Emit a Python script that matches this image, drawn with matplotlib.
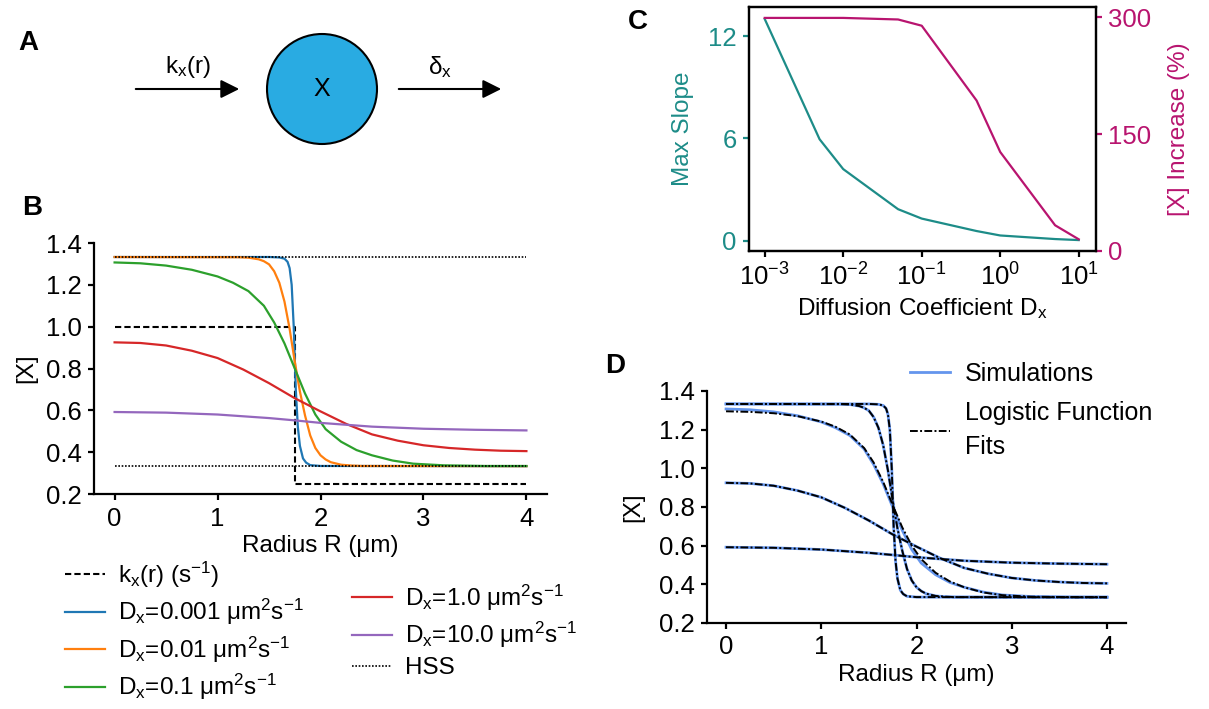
import matplotlib
matplotlib.use("Agg")
import matplotlib.pyplot as plt
from matplotlib.patches import Circle
from matplotlib.lines import Line2D

plt.rcParams['font.family'] = ['Liberation Sans', 'DejaVu Sans']
plt.rcParams['mathtext.fontset'] = 'custom'
plt.rcParams['mathtext.rm'] = 'Liberation Sans'
plt.rcParams['mathtext.it'] = 'Liberation Sans:italic'
plt.rcParams['mathtext.bf'] = 'Liberation Sans:bold'
plt.rcParams['font.size'] = 17.5
plt.rcParams['xtick.labelsize'] = 18.5
plt.rcParams['ytick.labelsize'] = 18.5

# ---- panel B / D profiles ----
r_kx = [0.0, 1.75, 1.75, 4.0]
kx = [1.0, 1.0, 0.25, 0.25]
r_hss = [0.0, 4.0]
hss_hi = [1.333, 1.333]
hss_lo = [0.333, 0.333]

r_d001 = [0.0, 1.5, 1.6, 1.65, 1.68, 1.7, 1.72, 1.74, 1.76, 1.78, 1.8, 1.83, 1.86, 1.9, 2.0, 4.0]
x_d001 = [1.333, 1.333, 1.331, 1.325, 1.31, 1.28, 1.2, 1.0, 0.7, 0.52, 0.43, 0.37, 0.35, 0.338, 0.334, 0.333]

r_d01 = [0.0, 1.2, 1.3, 1.4, 1.45, 1.5, 1.55, 1.6, 1.65, 1.7, 1.75, 1.8, 1.85, 1.9, 1.95, 2.0,
         2.05, 2.1, 2.2, 2.3, 2.4, 4.0]
x_d01 = [1.333, 1.332, 1.33, 1.322, 1.313, 1.298, 1.265, 1.21, 1.12, 0.99, 0.833, 0.69, 0.575,
         0.48, 0.42, 0.385, 0.365, 0.352, 0.34, 0.336, 0.334, 0.333]

r_d1 = [0.0, 0.25, 0.5, 0.75, 1.0, 1.15, 1.3, 1.45, 1.55, 1.65, 1.75, 1.85, 1.95, 2.05, 2.2,
        2.35, 2.5, 2.7, 2.9, 3.2, 3.6, 4.0]
x_d1 = [1.307, 1.303, 1.292, 1.272, 1.24, 1.21, 1.17, 1.10, 1.02, 0.92, 0.80, 0.68, 0.58,
        0.51, 0.45, 0.41, 0.385, 0.36, 0.345, 0.337, 0.334, 0.334]
x_d1_fit = [1.295, 1.292, 1.285, 1.27, 1.242, 1.215, 1.175, 1.105, 1.03, 0.93, 0.81, 0.695,
            0.6, 0.53, 0.46, 0.415, 0.385, 0.358, 0.344, 0.336, 0.334, 0.334]

r_d10 = [0.0, 0.25, 0.5, 0.75, 1.0, 1.25, 1.5, 1.75, 2.0, 2.25, 2.5, 2.75, 3.0, 3.25, 3.5, 3.75, 4.0]
x_d10 = [0.925, 0.922, 0.91, 0.885, 0.85, 0.795, 0.73, 0.658, 0.595, 0.535, 0.485, 0.455,
         0.433, 0.42, 0.412, 0.407, 0.405]

r_d100 = [0.0, 0.5, 1.0, 1.5, 1.75, 2.0, 2.5, 3.0, 3.5, 4.0]
x_d100 = [0.592, 0.589, 0.58, 0.563, 0.552, 0.54, 0.522, 0.512, 0.507, 0.504]

# ---- panel C ----
diff_coef = [1e-3, 5e-3, 1e-2, 5e-2, 1e-1, 5e-1, 1.0, 5.0, 10.0]
max_slope = [13.0, 5.95, 4.2, 1.85, 1.3, 0.57, 0.31, 0.1, 0.04]
increase = [299, 299, 299, 297, 289, 193, 127, 33, 15]

W, H = 1209, 709
fig = plt.figure(figsize=(W / 100, H / 100), dpi=100)


def px_axes(left, top, right, bottom):
    return fig.add_axes([left / W, 1 - bottom / H, (right - left) / W, (bottom - top) / H])


def style_ax(ax):
    for s in ['top', 'right']:
        ax.spines[s].set_visible(False)
    for s in ['left', 'bottom']:
        ax.spines[s].set_linewidth(1.6)
    ax.tick_params(width=1.6, length=4, pad=5)


# ---- panel A: drawn in pixel space ----
ax0 = fig.add_axes([0, 0, 1, 1])
ax0.set_xlim(0, W)
ax0.set_ylim(H, 0)
ax0.axis('off')
ax0.add_patch(Circle((322, 89), 55, facecolor='#29abe2', edgecolor='black', lw=1.5))
ax0.text(322, 89, 'X', ha='center', va='center', fontsize=18)
arrow = dict(arrowstyle='-|>', lw=1.5, color='black', mutation_scale=28)
ax0.annotate('', xy=(242, 89), xytext=(133, 89), arrowprops=arrow)
ax0.annotate('', xy=(504, 89), xytext=(396, 89), arrowprops=arrow)
ax0.text(188, 67, r'k$_\mathrm{x}$(r)', ha='center', va='center', fontsize=17.5)
ax0.text(440, 67, r'δ$_\mathrm{x}$', ha='center', va='center', fontsize=17.5)
for lab, x, y in [('A', 28, 43), ('B', 32, 208), ('C', 638, 22), ('D', 615, 366)]:
    ax0.text(x, y, lab, ha='center', va='center', fontsize=20, fontweight='bold')

# ---- panel B ----
axB = px_axes(94, 243, 547, 494)
style_ax(axB)
l_kx, = axB.plot(r_kx, kx, color='black', ls=(0, (3, 1.5)), lw=1.5)
l1, = axB.plot(r_d001, x_d001, color='#1f77b4', lw=1.6)
l2, = axB.plot(r_d01, x_d01, color='#ff7f0e', lw=1.6)
l3, = axB.plot(r_d1, x_d1, color='#2ca02c', lw=1.6)
l4, = axB.plot(r_d10, x_d10, color='#d62728', lw=1.6)
l5, = axB.plot(r_d100, x_d100, color='#9467bd', lw=1.6)
l_hss, = axB.plot(r_hss, hss_hi, color='black', ls=(0, (1, 1)), lw=1.2)
axB.plot(r_hss, hss_lo, color='black', ls=(0, (1, 1)), lw=1.2)
axB.set_xlim(-0.2, 4.2)
axB.set_ylim(0.2, 1.4)
axB.set_xticks([0, 1, 2, 3, 4])
axB.set_yticks([0.2, 0.4, 0.6, 0.8, 1.0, 1.2, 1.4])
axB.set_xlabel('Radius R (μm)', labelpad=3)
axB.set_ylabel('[X]', labelpad=6)

unit = r' μm$^2$s$^{-1}$'
leg_kw = dict(frameon=False, loc='center left', borderpad=0, borderaxespad=0,
              handlelength=1.65, handletextpad=0.55, labelspacing=0.3,
              bbox_transform=fig.transFigure, fontsize=17.5)
leg1 = axB.legend([l_kx, l1, l2, l3],
                  [r'k$_\mathrm{x}$(r) (s$^{-1}$)', r'D$_\mathrm{x}$=0.001' + unit,
                   r'D$_\mathrm{x}$=0.01' + unit, r'D$_\mathrm{x}$=0.1' + unit],
                  bbox_to_anchor=(65 / W, 1 - 631 / H), **leg_kw)
axB.add_artist(leg1)
axB.legend([l4, l5, l_hss],
           [r'D$_\mathrm{x}$=1.0' + unit, r'D$_\mathrm{x}$=10.0' + unit, 'HSS'],
           bbox_to_anchor=(352 / W, 1 - 631 / H), **leg_kw)

# ---- panel C ----
teal = '#1d8c88'
mag = '#b8146f'
axC = px_axes(749, 7, 1096, 251)
axC2 = axC.twinx()
axC.plot(diff_coef, max_slope, color=teal, lw=1.6)
axC2.plot(diff_coef, increase, color=mag, lw=1.6)
axC.set_xscale('log')
axC.set_xlim(10 ** -3.2, 10 ** 1.22)
axC.set_xticks([1e-3, 1e-2, 1e-1, 1e0, 1e1])
axC.set_ylim(-0.6, 13.7)
axC2.set_ylim(0, 313)
axC.set_yticks([0, 6, 12])
axC2.set_yticks([0, 150, 300])
for sp in axC.spines.values():
    sp.set_linewidth(1.6)
for sp in axC2.spines.values():
    sp.set_linewidth(1.6)
axC.tick_params(which='major', width=1.6, length=4, pad=5)
axC.tick_params(which='minor', width=1.0, length=3)
axC.tick_params(axis='y', colors=teal)
axC2.tick_params(axis='y', colors=mag, width=1.6, length=4, pad=5)
for ax in (axC, axC2):
    ax.spines['left'].set_color('black')
    ax.spines['right'].set_color('black')
axC.set_ylabel('Max Slope', color=teal, labelpad=10)
axC2.set_ylabel('[X] Increase (%)', color=mag, labelpad=12)
axC.set_xlabel(r'Diffusion Coefficient D$_\mathrm{x}$', labelpad=4)

# ---- panel D ----
sim = 'cornflowerblue'
fit_ls = (0, (4, 1.2, 1, 1.2))
axD = px_axes(707, 391, 1126, 623)
style_ax(axD)
axD.plot(r_d001, x_d001, color=sim, lw=2)
axD.plot(r_d01, x_d01, color=sim, lw=2)
axD.plot(r_d1, x_d1, color=sim, lw=2)
axD.plot(r_d10, x_d10, color=sim, lw=2)
axD.plot(r_d100, x_d100, color=sim, lw=2)
axD.plot(r_d001, x_d001, color='black', ls=fit_ls, lw=1.4)
axD.plot(r_d01, x_d01, color='black', ls=fit_ls, lw=1.4)
axD.plot(r_d1, x_d1_fit, color='black', ls=fit_ls, lw=1.4)
axD.plot(r_d10, x_d10, color='black', ls=fit_ls, lw=1.4)
axD.plot(r_d100, x_d100, color='black', ls=fit_ls, lw=1.4)
axD.set_xlim(-0.2, 4.2)
axD.set_ylim(0.2, 1.4)
axD.set_xticks([0, 1, 2, 3, 4])
axD.set_yticks([0.2, 0.4, 0.6, 0.8, 1.0, 1.2, 1.4])
axD.set_xlabel('Radius R (μm)', labelpad=3)
axD.set_ylabel('[X]', labelpad=10)
legD = axD.legend([Line2D([], [], color=sim, lw=2), Line2D([], [], color='black', ls=fit_ls, lw=1.4)],
                  ['Simulations', 'Logistic Function\nFits'],
                  frameon=False, loc='upper left', borderpad=0, borderaxespad=0,
                  handlelength=1.6, handletextpad=0.6, labelspacing=0.6,
                  bbox_to_anchor=(910 / W, 1 - 362 / H), bbox_transform=fig.transFigure,
                  fontsize=18)
for t in legD.get_texts():
    t.set_linespacing(1.5)

fig.savefig('out.png', dpi=100)
